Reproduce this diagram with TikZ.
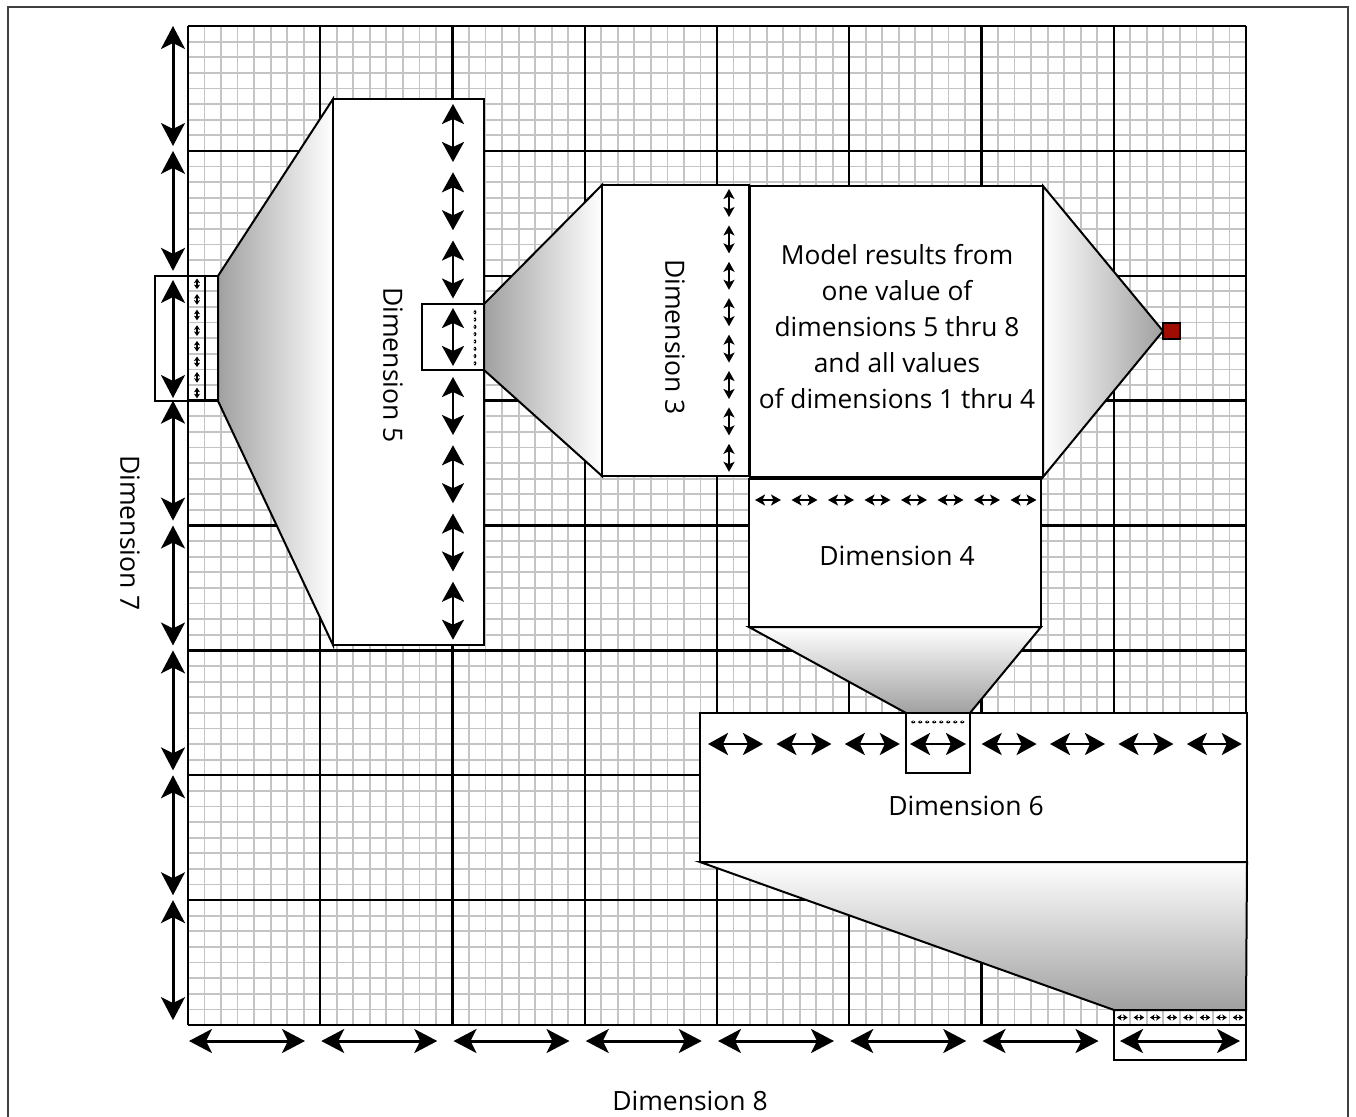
\documentclass[tikz,border=0pt]{standalone}
\usepackage{fontspec}
\setmainfont{Open Sans}
\usetikzlibrary{arrows.meta}
\definecolor{fineg}{HTML}{C4C4C4}
\definecolor{sqred}{HTML}{A00D00}
\definecolor{shadeg}{HTML}{A0A0A0}
\begin{document}
\begin{tikzpicture}[x=1pt,y=-1pt,
  fine/.style={draw=fineg,line width=1.8pt},
  major/.style={draw=black,line width=2.4pt},
  box/.style={draw=black,line width=2.2pt,fill=white},
  frame/.style={draw=black,line width=2.2pt},
  trapz/.style={draw=black,line width=2pt},
  bigarr/.style={line width=3pt,{Stealth[length=23pt,width=24pt,inset=6pt]}-{Stealth[length=23pt,width=24pt,inset=6pt]}},
  midarr/.style={line width=2.8pt,{Stealth[length=20pt,width=22pt,inset=5pt]}-{Stealth[length=20pt,width=22pt,inset=5pt]}},
  smallarr/.style={line width=2pt,{Stealth[length=10pt,width=11pt,inset=2.5pt]}-{Stealth[length=10pt,width=11pt,inset=2.5pt]}},
  tinyarr/.style={line width=1.3pt,{Stealth[length=4.5pt,width=6pt,inset=1pt]}-{Stealth[length=4.5pt,width=6pt,inset=1pt]}},
  dotarr/.style={line width=0.8pt,{Stealth[length=2pt,width=3pt,inset=0.5pt]}-{Stealth[length=2pt,width=3pt,inset=0.5pt]}},
  lab/.style={font=\fontsize{26.5}{32}\selectfont,inner sep=0pt}
]
\useasboundingbox (0,0) rectangle (1356,1116);
\fill[white] (0,0) rectangle (1356,1116);
% outer frame
\draw[draw=black!75,line width=1.3pt] (8,7) rectangle (1348,1140);
% fine grid
\foreach \i in {1,...,63}{
  \draw[fine] ({188+\i*16.53125},26) -- ({188+\i*16.53125},1025);
  \draw[fine] (188,{26+\i*15.609375}) -- (1246,{26+\i*15.609375});
}
% major grid
\foreach \i in {0,...,8}{
  \draw[major] ({188+\i*132.25},26) -- ({188+\i*132.25},1025);
  \draw[major] (188,{26+\i*124.875}) -- (1246,{26+\i*124.875});
}
% Dimension 7 arrows (left)
\foreach \k in {0,1,3,4,5,6,7}{
  \draw[bigarr] (173,{26+\k*124.875}) -- (173,{26+\k*124.875+120});
}
% Dimension 8 arrows (bottom)
\foreach \k in {0,...,6}{
  \draw[bigarr] ({188+\k*132.25+1},1041) -- ({188+\k*132.25+117},1041);
}
% left zoom box (Dimension 7 cell)
\draw[frame] (155,276) rectangle (218,401);
\draw[frame] (188,276) -- (188,401);
\draw[frame] (205,276) -- (205,401);
\draw[bigarr] (173,280) -- (173,398);
\foreach \k in {0,...,7}{
  \draw[tinyarr] (197,{276+15.6*\k+2.5}) -- (197,{276+15.6*\k+13.1});
}
% trapezoid Dim7 -> Dim5
\path[trapz,left color=shadeg,right color=white] (218,276) -- (333,99) -- (333,645) -- (218,401) -- cycle;
% Dimension 5 box
\draw[box] (333,99) rectangle (484,645);
\node[lab,rotate=-90] (d5) at (393,365) {Dimension 5};
\foreach \k in {0,1,2,4,5,6,7}{
  \draw[midarr] (453,{99+68.25*\k+5}) -- (453,{99+68.25*\k+63});
}
\draw[frame] (422,304) rectangle (484,370);
\draw[midarr] (453,308) -- (453,366);
\foreach \k in {0,...,7}{
  \draw[dotarr] (475,{310+7.3*\k}) -- (475,{310+7.3*\k+4.5});
}
% trapezoid Dim5 -> Dim3
\path[trapz,left color=shadeg,right color=white] (484,304) -- (602,185) -- (602,476) -- (484,370) -- cycle;
% Dimension 3 box
\draw[box] (602,185) rectangle (749,476);
\node[lab,rotate=-90] (d3) at (675,337) {Dimension 3};
\foreach \k in {0,...,7}{
  \draw[smallarr] (729,{185+36.4*\k+4}) -- (729,{185+36.4*\k+32});
}
% Model results box
\draw[box] (750,186) rectangle (1043,477);
\node[align=center,font=\fontsize{26.3}{36}\selectfont,inner sep=0pt] (model) at (897,327)
  {Model results from\\one value of\\dimensions 5 thru 8\\and all values\\of dimensions 1 thru 4};
% trapezoid Model -> red square
\path[trapz,left color=white,right color=shadeg] (1043,186) -- (1163,331) -- (1043,477) -- cycle;
\draw[draw=black,line width=2pt,fill=sqred] (1163,323) rectangle (1180,339);
% Dimension 4 box
\draw[box] (749,479) rectangle (1041,627);
\foreach \k in {0,...,7}{
  \draw[smallarr] ({749+36.5*\k+6},500) -- ({749+36.5*\k+32},500);
}
\node[lab] (d4) at (897,556) {Dimension 4};
% trapezoid Dim4 -> Dim6
\path[trapz,top color=white,bottom color=shadeg] (749,627) -- (1041,627) -- (970,713) -- (906,713) -- cycle;
% Dimension 6 box
\draw[box] (700,713) rectangle (1247,862);
\foreach \k in {0,1,2,4,5,6,7}{
  \draw[midarr] ({700+68.4*\k+8},744) -- ({700+68.4*\k+63},744);
}
\draw[frame] (906,713) rectangle (970,773);
\draw[midarr] (910,744) -- (966,744);
\foreach \k in {0,...,7}{
  \draw[dotarr] ({911+7*\k},722) -- ({911+7*\k+4.5},722);
}
\node[lab] (d6) at (966,806) {Dimension 6};
% trapezoid Dim6 -> bottom row
\path[trapz,top color=white,bottom color=shadeg] (700,862) -- (1247,862) -- (1246,1010) -- (1114,1010) -- cycle;
% bottom zoom box
\draw[frame] (1114,1010) rectangle (1246,1060);
\draw[frame] (1114,1025) -- (1246,1025);
\foreach \k in {0,...,7}{
  \draw[tinyarr] ({1114+16.53*\k+3},1017.5) -- ({1114+16.53*\k+13.6},1017.5);
}
\draw[bigarr] (1120,1041) -- (1240,1041);
% axis labels
\node[lab,rotate=-90] (d7) at (130,533) {Dimension 7};
\node[lab] (d8) at (690,1101) {Dimension 8};
\end{tikzpicture}
\end{document}
